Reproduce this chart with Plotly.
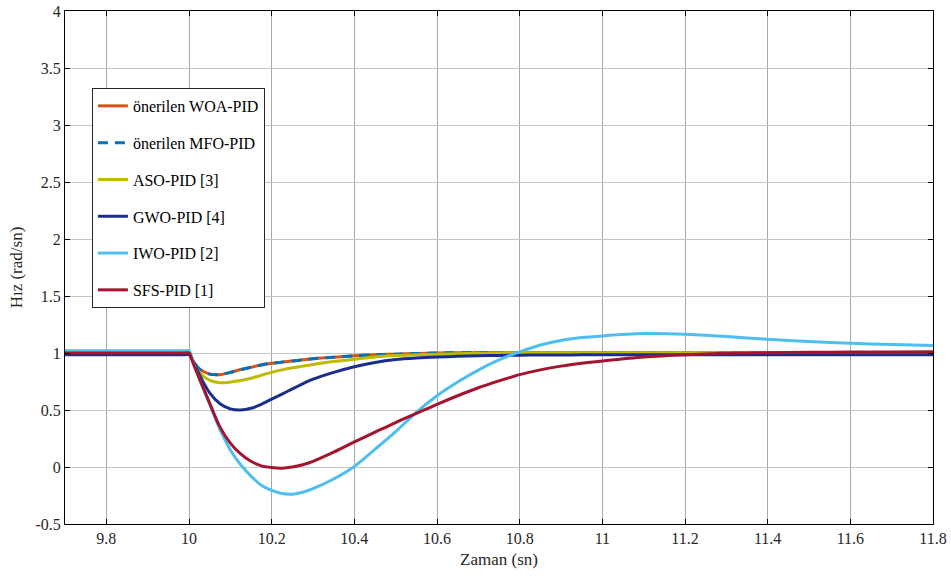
import plotly.graph_objects as go

# Time axis (s)
t = [9.7, 9.99, 10.0, 10.01, 10.025, 10.05, 10.075, 10.1, 10.125, 10.15, 10.175, 10.2,
     10.225, 10.25, 10.275, 10.3, 10.35, 10.4, 10.45, 10.5, 10.55, 10.6, 10.65,
     10.7, 10.75, 10.8, 10.85, 10.9, 10.95, 11.0, 11.1, 11.2, 11.3, 11.4, 11.5,
     11.6, 11.7, 11.8]

woa = [1.0, 1.0, 1.0, 0.93, 0.86, 0.815, 0.81, 0.83, 0.855, 0.875, 0.895, 0.91,
       0.92, 0.93, 0.94, 0.95, 0.962, 0.975, 0.985, 0.99, 0.995, 1.0, 1.002,
       1.004, 1.005, 1.005, 1.005, 1.005, 1.005, 1.005, 1.004, 1.003, 1.002, 1.002, 1.001,
       1.001, 1.0, 1.0]
mfo = list(woa)
aso = [1.0, 1.0, 1.0, 0.92, 0.83, 0.76, 0.74, 0.745, 0.758, 0.778, 0.805, 0.83,
       0.852, 0.87, 0.885, 0.9, 0.925, 0.945, 0.965, 0.977, 0.985, 0.99, 0.994,
       0.997, 1.0, 1.002, 1.003, 1.003, 1.003, 1.003, 1.002, 1.002, 1.001, 1.001, 1.0,
       1.0, 1.0, 1.0]
gwo = [0.985, 0.985, 0.985, 0.93, 0.81, 0.65, 0.555, 0.51, 0.5, 0.515, 0.55, 0.595,
       0.64, 0.685, 0.73, 0.77, 0.83, 0.88, 0.917, 0.942, 0.956, 0.965, 0.971,
       0.976, 0.979, 0.981, 0.982, 0.983, 0.984, 0.984, 0.985, 0.985, 0.985, 0.985, 0.985,
       0.985, 0.985, 0.985]
iwo = [1.02, 1.02, 1.02, 0.92, 0.77, 0.55, 0.33, 0.15, 0.02, -0.08, -0.16, -0.205,
       -0.232, -0.238, -0.222, -0.19, -0.105, 0.005, 0.155, 0.31, 0.48, 0.625, 0.745,
       0.85, 0.94, 1.01, 1.07, 1.11, 1.135, 1.15, 1.17, 1.165, 1.145, 1.12, 1.1,
       1.085, 1.075, 1.065]
sfs = [1.0, 1.0, 1.0, 0.91, 0.78, 0.56, 0.35, 0.21, 0.115, 0.05, 0.01, -0.005,
       -0.01, 0.0, 0.02, 0.05, 0.13, 0.22, 0.305, 0.39, 0.47, 0.55, 0.625,
       0.695, 0.755, 0.81, 0.852, 0.885, 0.91, 0.93, 0.965, 0.985, 0.997, 1.003, 1.006,
       1.008, 1.009, 1.01]

names = ["önerilen WOA-PID", "önerilen MFO-PID", "ASO-PID [3]", "GWO-PID [4]",
         "IWO-PID [2]", "SFS-PID [1]"]
colors = ["#D95319", "#0072BD", "#BDBA00", "#1C2E8C", "#4DBEEE", "#A2142F"]
dashes = ["solid", "10px,7px", "solid", "solid", "solid", "solid"]
series = [woa, mfo, aso, gwo, iwo, sfs]

xtick_vals = [9.8, 10.0, 10.2, 10.4, 10.6, 10.8, 11.0, 11.2, 11.4, 11.6, 11.8]
xtick_text = ["9.8", "10", "10.2", "10.4", "10.6", "10.8", "11", "11.2", "11.4", "11.6", "11.8"]
ytick_vals = [-0.5, 0, 0.5, 1, 1.5, 2, 2.5, 3, 3.5, 4]
ytick_text = ["-0.5", "0", "0.5", "1", "1.5", "2", "2.5", "3", "3.5", "4"]

font = "Liberation Serif"

fig = go.Figure()
for i, (nm, col, dsh, ys) in enumerate(zip(names, colors, dashes, series)):
    fig.add_trace(go.Scatter(x=t, y=ys, mode="lines", name=nm, legendgroup=f"g{i}",
                             line=dict(color=col, width=3, dash=dsh, shape="spline",
                                       smoothing=0.8)))

axis_common = dict(showline=True, linecolor="black", linewidth=1, mirror="ticks",
                   ticks="inside", ticklen=5, tickcolor="black", zeroline=False,
                   automargin=False,
                   tickfont=dict(family=font, size=16, color="#262626"))

fig.update_xaxes(range=[9.7, 11.8], tickvals=xtick_vals, ticktext=xtick_text,
                 showgrid=True, gridcolor="#a8a8a8", gridwidth=1,
                 title=dict(text="Zaman (sn)", font=dict(family=font, size=17, color="#262626"),
                            standoff=6),
                 **axis_common)
fig.update_yaxes(range=[-0.5, 4], tickvals=ytick_vals, ticktext=ytick_text,
                 showgrid=True, gridcolor="#c4c4c4", gridwidth=1,
                 title=dict(text="Hız (rad/sn)", font=dict(family=font, size=17, color="#262626"),
                            standoff=8),
                 **axis_common)

fig.update_layout(
    width=951, height=578,
    margin=dict(l=65, r=18, t=11, b=54, autoexpand=False),
    paper_bgcolor="white", plot_bgcolor="white",
    font=dict(family=font, size=16, color="black"),
    showlegend=True,
    legend=dict(x=0.031, y=0.85, xanchor="left", yanchor="top",
                bgcolor="white", bordercolor="#262626", borderwidth=1,
                font=dict(family=font, size=16, color="black"),
                tracegroupgap=13, itemwidth=30),
)

fig.write_html("out.html", config={"displayModeBar": False},
               post_script="document.body.style.margin='0';document.body.style.padding='0';")
